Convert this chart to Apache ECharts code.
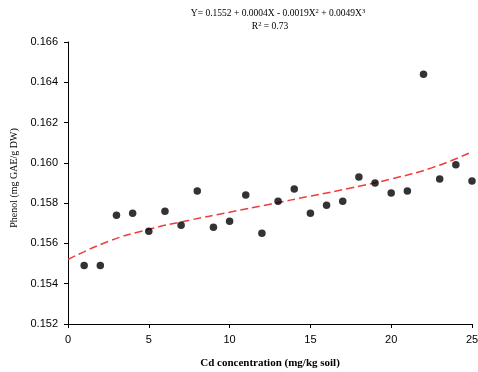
<!DOCTYPE html>
<html>
<head>
<meta charset="utf-8">
<script src="https://cdn.jsdelivr.net/npm/echarts@6/dist/echarts.min.js"></script>
<style>
  html, body { margin: 0; padding: 0; background: #fff; }
  #chart { width: 478px; height: 372px; }
</style>
</head>
<body>
<div id="chart"></div>
<script>
// measured Cd levels and phenol content
const cdLevels = [1, 2, 3, 4, 5, 6, 7, 8, 9, 10, 11, 12, 13, 14, 15, 16, 17, 18, 19, 20, 21, 22, 23, 24, 25];
const phenol = [0.1549, 0.1549, 0.1574, 0.1575, 0.1566, 0.1576, 0.1569, 0.1586, 0.1568, 0.1571,
  0.1584, 0.1565, 0.1581, 0.1587, 0.1575, 0.1579, 0.1581, 0.1593, 0.1590, 0.1585,
  0.1586, 0.1644, 0.1592, 0.1599, 0.1591];

// fitted trend line
const fitX = [0, 2.5, 5, 7.5, 10, 12.5, 15, 17.5, 20, 22.5, 25];
const fitY = [0.1552, 0.1561, 0.1567, 0.15715, 0.15755, 0.15795, 0.15835, 0.15875, 0.1592, 0.15975, 0.16055];

const yTicks = { min: 0.152, max: 0.166, step: 0.002 };

const serif = "Liberation Serif";
const sans = "Liberation Sans";

const eqStyle = {
  fontFamily: serif,
  fontSize: 9.5,
  fontWeight: "normal",
  color: "#000",
  rich: {
    s: { fontFamily: serif, fontSize: 6.5, verticalAlign: "top", lineHeight: 8, padding: [0, 0, 5, 0] }
  }
};

const chart = echarts.init(document.getElementById("chart"));
chart.setOption({
  animation: false,
  title: [
    {
      text: "Y= 0.1552 + 0.0004X - 0.0019X{s|2} + 0.0049X{s|3}",
      left: 278, top: 8, textAlign: "center", padding: 0,
      textStyle: eqStyle
    },
    {
      text: "R{s|2} = 0.73",
      left: 270, top: 21, textAlign: "center", padding: 0,
      textStyle: eqStyle
    }
  ],
  grid: { left: 68, right: 6, top: 42, bottom: 48, containLabel: false, outerBoundsMode: "none" },
  xAxis: {
    type: "value",
    min: 0,
    max: 25,
    interval: 5,
    name: "Cd concentration (mg/kg soil)",
    nameLocation: "middle",
    nameGap: 34,
    nameTextStyle: { fontFamily: serif, fontWeight: "bold", fontSize: 11, color: "#000" },
    axisLine: { lineStyle: { color: "#000", width: 1 } },
    axisTick: { inside: false, length: 4, lineStyle: { color: "#000" } },
    axisLabel: { fontFamily: sans, fontSize: 11, color: "#000", margin: 10 },
    splitLine: { show: false }
  },
  yAxis: {
    type: "value",
    min: yTicks.min,
    max: yTicks.max,
    interval: yTicks.step,
    name: "Phenol (mg GAE/g DW)",
    nameLocation: "middle",
    nameGap: 49,
    nameTextStyle: { fontFamily: serif, fontSize: 10, color: "#000", padding: [0, 0, 0, 10] },
    axisLine: { show: true, lineStyle: { color: "#000", width: 1 } },
    axisTick: { show: true, length: 4, lineStyle: { color: "#000" } },
    axisLabel: {
      fontFamily: sans, fontSize: 11, color: "#000", margin: 10,
      formatter: v => v.toFixed(3)
    },
    splitLine: { show: false }
  },
  series: [
    {
      type: "line",
      data: fitX.map((x, i) => [x, fitY[i]]),
      smooth: true,
      symbol: "none",
      lineStyle: { color: "#f03c3c", width: 1.5, type: [8, 4] },
      z: 1
    },
    {
      type: "scatter",
      data: cdLevels.map((x, i) => [x, phenol[i]]),
      symbol: "circle",
      symbolSize: 7.5,
      itemStyle: { color: "#000" },
      z: 2
    }
  ]
});
</script>
</body>
</html>
